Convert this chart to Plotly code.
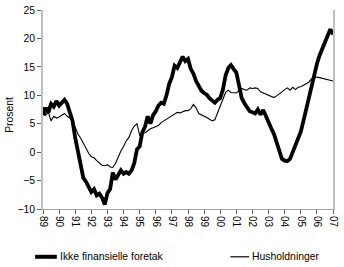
import plotly.graph_objects as go

# Bimonthly observations, Jan 1989 .. Jan 2007 (6 per year)
start_year = 1989
end_year = 2007
per_year = 6

foretak = [
    6.5, 7.8, 7.0, 8.5, 8.0, 9.0,
    8.2, 8.8, 9.2, 8.5, 7.2, 5.5,
    2.5, 0.0, -2.0, -4.5, -5.2, -6.2,
    -7.0, -6.5, -7.6, -7.3, -8.0, -9.2,
    -7.2, -6.5, -3.6, -4.8, -4.0, -3.2,
    -3.8, -3.5, -3.8, -3.2, -1.9, 0.5,
    1.0, 3.5, 4.5, 6.3, 5.0, 6.5,
    7.2, 8.2, 8.7, 8.5, 10.0, 12.0,
    13.2, 15.2, 14.8, 15.7, 16.8, 16.0,
    16.4, 14.7, 13.8, 12.5, 11.6, 10.8,
    10.4, 10.1, 9.5, 9.0, 8.7, 9.2,
    9.5, 11.0, 13.5, 14.8, 15.3, 14.6,
    14.0, 11.8, 9.5, 8.6, 7.8, 7.2,
    7.0, 6.8, 7.5, 6.6, 7.4, 6.2,
    5.0, 4.2, 3.2, 1.8, 0.2, -1.2,
    -1.5, -1.6, -1.2, 0.0, 1.6, 2.6,
    3.6, 5.5, 7.5, 9.5, 12.0, 14.0,
    15.5, 17.0, 18.2, 19.5, 20.8, 21.6,
    20.7,
]

husholdninger = [
    8.0, 6.5, 7.0, 5.5, 6.3, 6.0,
    6.2, 6.5, 6.8, 6.3, 6.0, 5.5,
    4.2, 3.2, 2.5, 1.5, 0.8, -0.2,
    -0.8, -1.0, -1.5, -1.9, -2.3, -2.4,
    -2.2, -2.6, -2.7, -2.0, -0.8, 0.2,
    1.0, 2.0, 2.6, 3.8, 4.6, 5.0,
    3.0, 3.3, 3.4, 3.8, 4.1, 4.3,
    4.5, 4.7, 5.2, 5.5, 5.8, 6.1,
    6.3, 6.6, 7.0, 6.9, 7.1, 7.3,
    7.3, 7.6, 8.4, 7.8, 6.8, 6.6,
    6.4, 6.1, 5.8, 5.5, 5.7, 6.8,
    8.0, 9.3, 10.5, 10.9, 10.5, 10.4,
    10.4, 10.9, 11.2, 11.0, 10.9, 11.3,
    11.2, 11.3, 11.2, 10.6, 10.4, 10.1,
    10.0, 9.7, 9.6, 9.9, 10.2, 10.6,
    11.0, 11.3, 10.9, 11.4, 11.0, 11.4,
    11.5, 11.8, 12.0, 12.3, 12.9, 13.1,
    13.2, 13.1, 13.0, 12.9, 12.8, 12.6,
    12.5,
]

year_ticks = list(range(start_year, end_year + 1))
year_labels = [f"{y % 100:02d}" for y in year_ticks]
y_ticks = [-10, -5, 0, 5, 10, 15, 20, 25]

name_thick = "Ikke finansielle foretak"
name_thin = "Husholdninger"

x = [start_year + i / per_year for i in range(len(foretak))]

FONT = "Liberation Sans, Arial, sans-serif"

fig = go.Figure()
fig.add_trace(go.Scatter(x=x, y=husholdninger, mode="lines", name=name_thin,
                         line=dict(color="black", width=1.1), showlegend=False))
fig.add_trace(go.Scatter(x=x, y=foretak, mode="lines", name=name_thick,
                         line=dict(color="black", width=3.8), showlegend=False))

W, H = 344, 267
L, R, T, B = 43, 7, 5, 58
pw, ph = W - L - R, H - T - B


def px(xp):
    return (xp - L) / pw


def py(yp):
    return (H - B - yp) / ph


# Legend drawn below plot
leg_y = py(258)
fig.add_shape(type="line", xref="paper", yref="paper", x0=px(35), x1=px(57),
              y0=leg_y, y1=leg_y, line=dict(color="black", width=4))
fig.add_annotation(xref="paper", yref="paper", x=px(58), y=leg_y, text=name_thick,
                   showarrow=False, xanchor="left", yanchor="middle",
                   font=dict(family=FONT, size=10.4, color="black"))
fig.add_shape(type="line", xref="paper", yref="paper", x0=px(233), x1=px(252),
              y0=leg_y, y1=leg_y, line=dict(color="black", width=1.2))
fig.add_annotation(xref="paper", yref="paper", x=px(253), y=leg_y, text=name_thin,
                   showarrow=False, xanchor="left", yanchor="middle",
                   font=dict(family=FONT, size=10.4, color="black"))

# Y axis title
fig.add_annotation(xref="paper", yref="paper", x=px(9), y=py(112), text="Prosent",
                   showarrow=False, textangle=-90, xanchor="center", yanchor="middle",
                   font=dict(family=FONT, size=10.4, color="black"))

fig.update_layout(
    width=W, height=H,
    margin=dict(l=L, r=R, t=T, b=B),
    paper_bgcolor="white", plot_bgcolor="white",
    font=dict(family=FONT, size=10, color="black"),
    showlegend=False,
)
fig.update_xaxes(
    range=[start_year, end_year], tickmode="array", tickvals=year_ticks,
    ticktext=year_labels, tickangle=90, showgrid=False, zeroline=False,
    showline=True, linecolor="#a6a6a6", linewidth=1,
    ticks="outside", ticklen=4, tickcolor="#606060", tickwidth=1,
    tickfont=dict(family=FONT, size=10), ticklabeloverflow="allow",
)
fig.update_yaxes(
    range=[-10, 25], tickmode="array", tickvals=y_ticks, showgrid=False,
    zeroline=False, showline=True, linecolor="#c0c0c0", linewidth=1.5, mirror=True,
    ticks="outside", ticklen=4, tickcolor="#606060", tickwidth=1,
    tickfont=dict(family=FONT, size=10.4), ticklabeloverflow="allow",
)

fig.write_html("out.html")
